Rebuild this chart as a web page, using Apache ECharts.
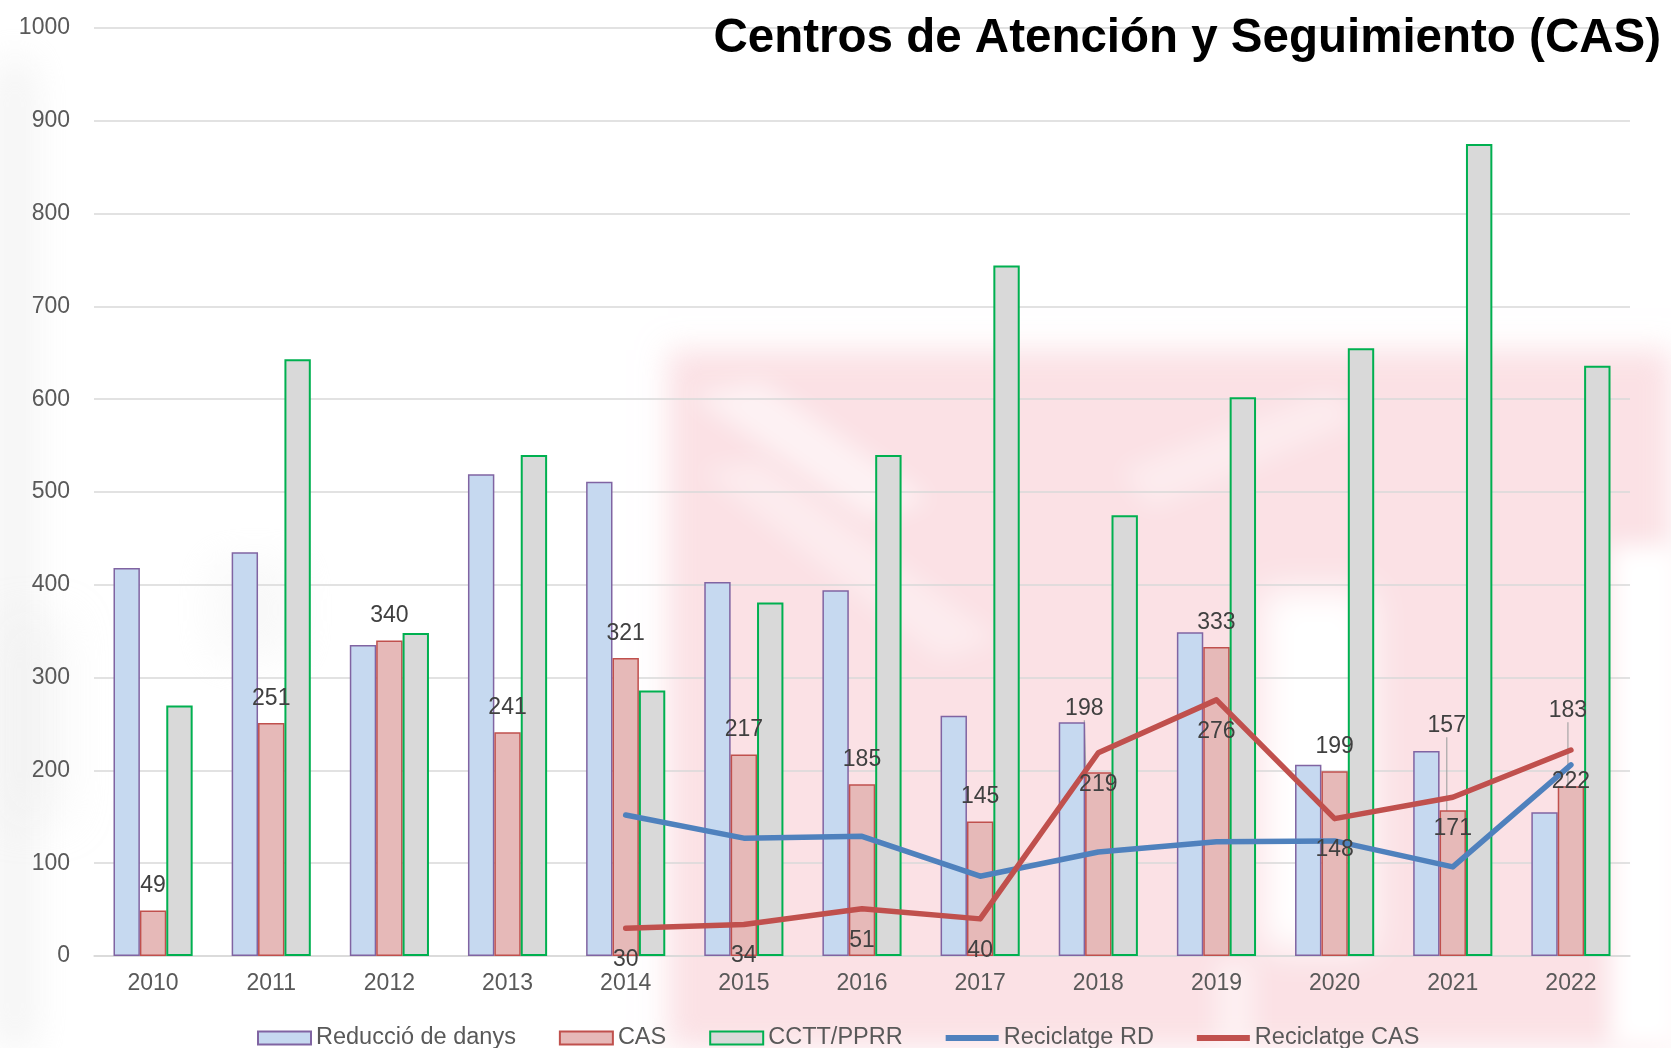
<!DOCTYPE html>
<html>
<head>
<meta charset="utf-8">
<script src="https://cdn.jsdelivr.net/npm/echarts@6/dist/echarts.min.js"></script>
<style>
html,body{margin:0;padding:0;background:#fff;}
#chart{width:1671px;height:1048px;}
</style>
</head>
<body>
<div id="chart"></div>
<script>
const categories = ['2010','2011','2012','2013','2014','2015','2016','2017','2018','2019','2020','2021','2022'];
const reduccioDanys = [418, 435, 335, 519, 511, 403, 394, 259, 252, 349, 206, 221, 155];
const casBars = [49, 251, 340, 241, 321, 217, 185, 145, 198, 333, 199, 157, 183];
const ccttPprr = [270, 643, 348, 540, 286, 381, 540, 744, 475, 602, 655, 875, 636];
const reciclatgeRD = [null, null, null, null, 152, 127, 129, 86, 112, 123, 124, 96, 206];
const reciclatgeCAS = [null, null, null, null, 30, 34, 51, 40, 219, 276, 148, 171, 222];
const seriesNames = ['Reducció de danys', 'CAS', 'CCTT/PPRR', 'Reciclatge RD', 'Reciclatge CAS'];
const titleText = 'Centros de Atención y Seguimiento (CAS)';
const yMin = 0, yMax = 1000, yStep = 100;

// label offsets for the moved CAS labels (style, keyed by category index)
const movedLabels = {8: [-14, -39], 11: [-6, -60], 12: [-3, -51]};

const FONT = "'Liberation Sans', Arial, sans-serif";
const chart = echarts.init(document.getElementById('chart'), null, {renderer: 'canvas'});

function blob(x, y, w, h, color, blur) {
  return {
    type: 'rect', silent: true, z: -100,
    shape: {x: x - 3000, y: y, width: w, height: h},
    style: {fill: color, shadowColor: color, shadowBlur: blur, shadowOffsetX: 3000}
  };
}
function streak(pts, color, blur) {
  return {
    type: 'polygon', silent: true, z: -99,
    shape: {points: pts.map(p => [p[0] - 3000, p[1]])},
    style: {fill: color, shadowColor: color, shadowBlur: blur, shadowOffsetX: 3000}
  };
}

const casData = casBars.map((v, i) => ({value: v, labelLine: {show: movedLabels[i] !== undefined}}));

const option = {
  backgroundColor: '#ffffff',
  animation: false,
  title: {
    text: titleText, right: 5, top: 10,
    textStyle: {fontFamily: FONT, fontSize: 47.5, fontWeight: 'bold', color: '#000000'}
  },
  graphic: [
    blob(0, 60, 30, 990, 'rgba(225,225,225,0.7)', 40),
    blob(210, 560, 90, 100, 'rgba(238,238,238,0.6)', 40),
    blob(0, 620, 70, 200, 'rgba(235,235,235,0.6)', 40),
    blob(668, 350, 1003, 698, 'rgba(249,205,213,0.78)', 28),
    streak([[690, 395], [760, 380], [930, 500], [870, 520]], 'rgba(255,255,255,0.75)', 25),
    streak([[700, 470], [760, 460], [1000, 640], [940, 660]], 'rgba(255,255,255,0.6)', 25),
    streak([[1120, 470], [1330, 390], [1360, 420], [1150, 510]], 'rgba(255,255,255,0.6)', 25),
    blob(1262, 590, 110, 360, 'rgba(255,255,255,1)', 35),
    blob(1610, 545, 70, 503, 'rgba(255,255,255,1)', 25),
    blob(1215, 960, 40, 88, 'rgba(255,255,255,0.7)', 25)
  ],
  grid: {left: 94, right: 41, top: 28, bottom: 92, containLabel: false},
  legend: {
    left: 252, top: 1021, itemGap: 43, itemWidth: 53, itemHeight: 13,
    textStyle: {fontFamily: FONT, fontSize: 23.5, color: '#595959'},
    data: [
      {name: seriesNames[0], icon: 'rect'},
      {name: seriesNames[1], icon: 'rect'},
      {name: seriesNames[2], icon: 'rect'},
      {name: seriesNames[3], icon: 'path://M0 0H60V7H0Z'},
      {name: seriesNames[4], icon: 'path://M0 0H60V7H0Z'}
    ]
  },
  xAxis: {
    type: 'category', data: categories,
    axisLine: {show: true, lineStyle: {color: '#D9D9D9', width: 1.5}},
    axisTick: {show: false},
    axisLabel: {fontFamily: FONT, fontSize: 23, color: '#595959', margin: 16}
  },
  yAxis: {
    type: 'value', min: yMin, max: yMax, interval: yStep,
    axisLine: {show: false}, axisTick: {show: false},
    splitLine: {lineStyle: {color: '#D9D9D9', width: 1.5}},
    axisLabel: {fontFamily: FONT, fontSize: 23, color: '#595959', margin: 24,
      formatter: function (v) { return String(v); }}
  },
  series: [
    {
      name: seriesNames[0], type: 'bar', data: reduccioDanys,
      barGap: '0%', barCategoryGap: '33%',
      itemStyle: {color: '#C6D9F0', borderColor: '#8064A2', borderWidth: 1.5}
    },
    {
      name: seriesNames[1], type: 'bar', data: casData,
      barGap: '0%', barCategoryGap: '33%',
      itemStyle: {color: '#E6B9B8', borderColor: '#C0504D', borderWidth: 1.5},
      label: {show: true, position: 'top', distance: 13, fontFamily: FONT, fontSize: 23, color: '#404040'},
      labelLayout: function (p) {
        const m = movedLabels[p.dataIndex];
        return m ? {dx: m[0], dy: m[1]} : {};
      },
      labelLine: {show: false, lineStyle: {color: '#A6A6A6', width: 1.2}}
    },
    {
      name: seriesNames[2], type: 'bar', data: ccttPprr,
      barGap: '0%', barCategoryGap: '33%',
      itemStyle: {color: '#D9D9D9', borderColor: '#00B050', borderWidth: 2}
    },
    {
      name: seriesNames[3], type: 'line', data: reciclatgeRD, z: 5,
      symbol: 'circle', symbolSize: 0, showSymbol: true, connectNulls: false,
      color: '#4F81BD',
      itemStyle: {color: '#4F81BD'},
      lineStyle: {color: '#4F81BD', width: 5.5, cap: 'round', join: 'round'}
    },
    {
      name: seriesNames[4], type: 'line', data: reciclatgeCAS, z: 6,
      symbol: 'circle', symbolSize: 0, showSymbol: true,
      color: '#C0504D',
      itemStyle: {color: '#C0504D'},
      lineStyle: {color: '#C0504D', width: 5.5, cap: 'round', join: 'round'},
      label: {show: true, position: 'bottom', distance: 20, fontFamily: FONT, fontSize: 23, color: '#404040'}
    }
  ]
};
chart.setOption(option);
</script>
</body>
</html>
